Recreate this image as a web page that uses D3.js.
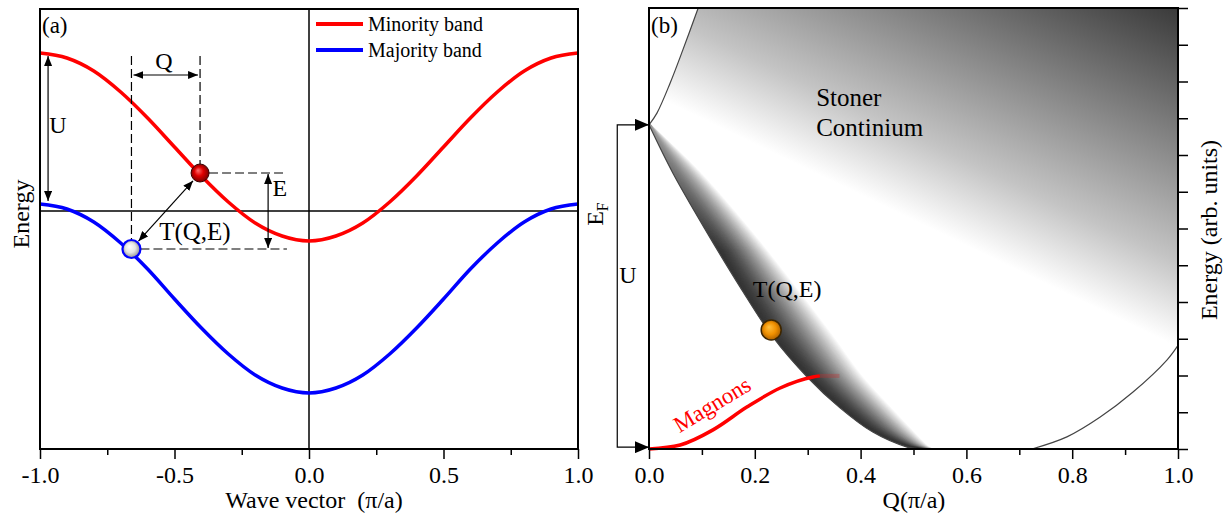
<!DOCTYPE html>
<html lang="en">
<head>
<meta charset="UTF-8">
<title>Bands and Stoner continuum</title>
<style>
  body { margin: 0; background: #fff; }
  svg { display: block; }
  text { font-family: "Liberation Serif", "DejaVu Serif", serif; fill: #000; }
  .tick text { font-size: 24px; }
  .tick line { stroke: #000; stroke-width: 1.5; }
</style>
</head>
<body>
<svg id="chart" width="1231" height="518"></svg>
<script src="https://cdn.jsdelivr.net/npm/d3@7"></script>
<script>
// ---- panel (a): tight-binding bands ----
var waveVector = [-1.0, -0.9, -0.8, -0.7, -0.6, -0.5, -0.4, -0.3, -0.2, -0.1, 0.0,
                  0.1, 0.2, 0.3, 0.4, 0.5, 0.6, 0.7, 0.8, 0.9, 1.0];
var minorityBand = [1.58, 1.53, 1.40, 1.19, 0.93, 0.64, 0.35, 0.09, -0.12, -0.25, -0.30,
                    -0.25, -0.12, 0.09, 0.35, 0.64, 0.93, 1.19, 1.40, 1.53, 1.58];
var majorityBand = [0.07, 0.02, -0.11, -0.32, -0.58, -0.88, -1.17, -1.43, -1.64, -1.77, -1.82,
                    -1.77, -1.64, -1.43, -1.17, -0.88, -0.58, -0.32, -0.11, 0.02, 0.07];
var minorityPoint = [-0.405, 0.38];
var majorityPoint = [-0.66, -0.38];
var ticksA = [-1, -0.5, 0, 0.5, 1];
var tickLabelsA = ["-1.0", "-0.5", "0.0", "0.5", "1.0"];
var minorTicksA = [-0.75, -0.25, 0.25, 0.75];

// ---- panel (b): Stoner continuum ----
var upperQ = [0, 0.015, 0.040, 0.064, 0.093];
var upperE = [8.82, 9.14, 9.96, 10.86, 12.0];
var lowerQ = [0, 0.045, 0.110, 0.172, 0.234, 0.299, 0.361, 0.423, 0.488, 0.507];
var lowerE = [8.82, 7.51, 5.88, 4.41, 3.05, 1.96, 1.12, 0.46, 0.05, 0];
var fadeQ  = [0, 0.096, 0.195, 0.276, 0.348, 0.403, 0.456, 0.499, 0.527, 0.534];
var rightQ = [0.724, 0.790, 0.853, 0.915, 0.979, 1.0];
var rightE = [0, 0.33, 0.87, 1.55, 2.42, 2.82];
var magnonQ = [0, 0.059, 0.121, 0.185, 0.248, 0.310, 0.323];
var magnonE = [0, 0.11, 0.52, 1.14, 1.66, 1.96, 1.99];
var stonerPoint = [0.231, 3.24];
var ticksB = [0, 0.2, 0.4, 0.6, 0.8, 1.0];
var tickLabelsB = ["0.0", "0.2", "0.4", "0.6", "0.8", "1.0"];
var minorTicksB = [0.1, 0.3, 0.5, 0.7, 0.9];
var energyTicksB = [0, 1, 2, 3, 4, 5, 6, 7, 8, 9, 10, 11, 12];

var svg = d3.select("#chart");
var defs = svg.append("defs");

var xA = d3.scaleLinear().domain([-1, 1]).range([40, 578]);
var yA = d3.scaleLinear().domain([-2.38, 2.02]).range([449, 9]);
var xB = d3.scaleLinear().domain([0, 1]).range([649, 1178]);
var yB = d3.scaleLinear().domain([0, 12]).range([449, 8]);

// markers
defs.append("marker").attr("id", "headA")
  .attr("markerUnits", "userSpaceOnUse").attr("markerWidth", 10).attr("markerHeight", 8)
  .attr("refX", 10).attr("refY", 4).attr("orient", "auto-start-reverse")
  .append("path").attr("d", "M0,0L10,4L0,8Z").attr("fill", "#000");
defs.append("marker").attr("id", "headB")
  .attr("markerUnits", "userSpaceOnUse").attr("markerWidth", 14).attr("markerHeight", 12)
  .attr("refX", 14).attr("refY", 6).attr("orient", "auto-start-reverse")
  .append("path").attr("d", "M0,0L14,6L0,12Z").attr("fill", "#000");

function radial(id, stops) {
  var g = defs.append("radialGradient").attr("id", id)
    .attr("cx", "50%").attr("cy", "50%").attr("r", "55%").attr("fx", "38%").attr("fy", "35%");
  stops.forEach(function (s) {
    g.append("stop").attr("offset", s[0]).attr("stop-color", s[1]);
  });
}
radial("dotRed", [["0%", "#ff7070"], ["45%", "#e00000"], ["100%", "#6a0000"]]);
radial("dotWhite", [["0%", "#ffffff"], ["50%", "#e4e4e4"], ["100%", "#808080"]]);
radial("dotOrange", [["0%", "#ffc040"], ["55%", "#f09000"], ["100%", "#a05800"]]);

var stonerGrad = defs.append("linearGradient").attr("id", "stonerGrad")
  .attr("gradientUnits", "userSpaceOnUse")
  .attr("x1", xB(0.75)).attr("y1", yB(4.5)).attr("x2", xB(1)).attr("y2", yB(12));
stonerGrad.append("stop").attr("offset", "0%").attr("stop-color", "#ffffff");
stonerGrad.append("stop").attr("offset", "25%").attr("stop-color", "#c4c4c4");
stonerGrad.append("stop").attr("offset", "100%").attr("stop-color", "#3a3a3a");

// band fades in from the cusp downwards
var bandMaskGrad = defs.append("linearGradient").attr("id", "bandMaskGrad")
  .attr("gradientUnits", "userSpaceOnUse")
  .attr("x1", 0).attr("y1", yB(8.82)).attr("x2", 0).attr("y2", yB(5.4));
bandMaskGrad.append("stop").attr("offset", "0%").attr("stop-color", "#fff").attr("stop-opacity", 0.5);
bandMaskGrad.append("stop").attr("offset", "100%").attr("stop-color", "#fff").attr("stop-opacity", 1);
defs.append("mask").attr("id", "bandMask").attr("maskUnits", "userSpaceOnUse")
  .attr("x", 600).attr("y", 0).attr("width", 631).attr("height", 518)
  .append("rect").attr("x", 600).attr("y", 0).attr("width", 631).attr("height", 518)
  .attr("fill", "url(#bandMaskGrad)");

// ================= panel (a) =================
var gA = svg.append("g");

gA.append("line")
  .attr("x1", xA(-1)).attr("x2", xA(1)).attr("y1", yA(0)).attr("y2", yA(0))
  .attr("stroke", "#000").attr("stroke-width", 1.5);
gA.append("line")
  .attr("x1", xA(0)).attr("x2", xA(0)).attr("y1", yA(2.02)).attr("y2", yA(-2.38))
  .attr("stroke", "#000").attr("stroke-width", 1.5);

var bandLine = d3.line()
  .x(function (d, i) { return xA(waveVector[i]); })
  .y(function (d) { return yA(d); })
  .curve(d3.curveMonotoneX);

gA.append("path").attr("d", bandLine(minorityBand))
  .attr("fill", "none").attr("stroke", "#ff0000").attr("stroke-width", 3.5);
gA.append("path").attr("d", bandLine(majorityBand))
  .attr("fill", "none").attr("stroke", "#0000ff").attr("stroke-width", 3.5);

// legend
var legend = [["Minority band", "#ff0000"], ["Majority band", "#0000ff"]];
legend.forEach(function (l, i) {
  var y = 24 + i * 26;
  gA.append("line").attr("x1", 316).attr("x2", 363).attr("y1", y).attr("y2", y)
    .attr("stroke", l[1]).attr("stroke-width", 4);
  gA.append("text").attr("x", 368).attr("y", y + 7).attr("font-size", 20).text(l[0]);
});

// construction lines
var pR = [xA(minorityPoint[0]), yA(minorityPoint[1])];
var pB = [xA(majorityPoint[0]), yA(majorityPoint[1])];
var dotR = 9;
var dash = "9,4";

gA.append("line").attr("x1", pB[0]).attr("x2", pB[0]).attr("y1", yA(1.55)).attr("y2", pB[1] - dotR)
  .attr("stroke", "#000").attr("stroke-width", 1.2).attr("stroke-dasharray", dash);
gA.append("line").attr("x1", pR[0]).attr("x2", pR[0]).attr("y1", yA(1.55)).attr("y2", pR[1] - dotR)
  .attr("stroke", "#000").attr("stroke-width", 1.2).attr("stroke-dasharray", dash);
gA.append("line").attr("x1", pR[0] + dotR).attr("x2", xA(-0.082)).attr("y1", pR[1]).attr("y2", pR[1])
  .attr("stroke", "#000").attr("stroke-width", 1.2).attr("stroke-dasharray", dash);
gA.append("line").attr("x1", pB[0] + dotR).attr("x2", xA(-0.082)).attr("y1", pB[1]).attr("y2", pB[1])
  .attr("stroke", "#000").attr("stroke-width", 1.2).attr("stroke-dasharray", dash);

function dblArrow(g, x1, y1, x2, y2, head, w) {
  g.append("line").attr("x1", x1).attr("y1", y1).attr("x2", x2).attr("y2", y2)
    .attr("stroke", "#000").attr("stroke-width", w || 1.2)
    .attr("marker-start", "url(#" + head + ")").attr("marker-end", "url(#" + head + ")");
}
// Q
dblArrow(gA, pB[0] + 2, yA(1.36), pR[0] - 2, yA(1.36), "headA");
// U
dblArrow(gA, xA(-0.97), yA(minorityBand[0]) + 3, xA(-0.97), yA(majorityBand[0]) - 3, "headA");
// E
dblArrow(gA, xA(-0.152), pR[1] + 1, xA(-0.152), pB[1] - 1, "headA");
// T(Q,E)
var dx = pR[0] - pB[0], dy = pR[1] - pB[1], len = Math.sqrt(dx * dx + dy * dy), off = 10.5;
dblArrow(gA, pB[0] + dx / len * off, pB[1] + dy / len * off,
  pR[0] - dx / len * off, pR[1] - dy / len * off, "headA");

gA.append("circle").attr("cx", pR[0]).attr("cy", pR[1]).attr("r", dotR)
  .attr("fill", "url(#dotRed)").attr("stroke", "#3a0000").attr("stroke-width", 1);
gA.append("circle").attr("cx", pB[0]).attr("cy", pB[1]).attr("r", dotR)
  .attr("fill", "url(#dotWhite)").attr("stroke", "#0000ff").attr("stroke-width", 2.2);

function label(g, x, y, txt, size, anchor) {
  return g.append("text").attr("x", x).attr("y", y).attr("font-size", size)
    .attr("text-anchor", anchor || "middle").text(txt);
}
label(gA, 42, 33, "(a)", 23, "start");
label(gA, xA(-0.539), yA(1.42), "Q", 24);
label(gA, xA(-0.933), yA(0.78), "U", 24);
label(gA, xA(-0.108), yA(0.15), "E", 24);
label(gA, xA(-0.424), yA(-0.29), "T(Q,E)", 25);

// frame + axis
gA.append("rect").attr("x", 40).attr("y", 9).attr("width", 538).attr("height", 440)
  .attr("fill", "none").attr("stroke", "#000").attr("stroke-width", 2);

var axA = gA.append("g").attr("transform", "translate(0,449)")
  .call(d3.axisBottom(xA).tickValues(ticksA)
    .tickFormat(function (d, i) { return tickLabelsA[i]; })
    .tickSize(10).tickPadding(7).tickSizeOuter(0));
axA.select(".domain").remove();
var axA2 = gA.append("g").attr("transform", "translate(0,449)")
  .call(d3.axisBottom(xA).tickValues(minorTicksA).tickFormat("").tickSize(6).tickSizeOuter(0));
axA2.select(".domain").remove();

gA.append("text").attr("x", 314).attr("y", 508).attr("font-size", 24)
  .attr("text-anchor", "middle").style("white-space", "pre").text("Wave vector  (\u03c0/a)");
gA.append("text").attr("transform", "translate(29,214) rotate(-90)")
  .attr("font-size", 24).attr("text-anchor", "middle").text("Energy");

// ================= panel (b) =================
var gB = svg.append("g");

var lineQE = d3.line()
  .x(function (d) { return xB(d[0]); })
  .y(function (d) { return yB(d[1]); })
  .curve(d3.curveCatmullRom.alpha(0.5));

var upperPts = d3.zip(upperQ, upperE);
var lowerPts = d3.zip(lowerQ, lowerE);
var rightPts = d3.zip(rightQ, rightE);

var regionD = lineQE(upperPts) +
  "L" + xB(1) + "," + yB(12) +
  lineQE(rightPts.slice().reverse()).replace(/^M/, "L") +
  lineQE(lowerPts.slice().reverse()).replace(/^M/, "L") + "Z";

defs.append("clipPath").attr("id", "regionClip").append("path").attr("d", regionD);

gB.append("path").attr("d", regionD).attr("fill", "url(#stonerGrad)");

// dark band along the lower edge of the continuum
var nBand = 48;
var bandSteps = d3.range(nBand, -1, -1).map(function (j) { return j / nBand; });
var bandCol = d3.interpolateRgb("#343434", "#ffffff");
gB.append("g").attr("clip-path", "url(#regionClip)")
  .append("g").attr("mask", "url(#bandMask)")
  .selectAll("path").data(bandSteps).join("path")
  .attr("d", function (t) {
    return lineQE(lowerQ.map(function (q, i) { return [q + t * (fadeQ[i] - q), lowerE[i]]; }));
  })
  .attr("fill", "none").attr("stroke-width", 3)
  .attr("stroke", function (t) { return bandCol(Math.pow(t, 1.5)); });

[upperPts, lowerPts, rightPts].forEach(function (pts) {
  gB.append("path").attr("d", lineQE(pts)).attr("fill", "none")
    .attr("stroke", "#444").attr("stroke-width", 1.2);
});

// magnons
var magnonLine = d3.line()
  .x(function (d, i) { return xB(magnonQ[i]); })
  .y(function (d) { return yB(d); })
  .curve(d3.curveMonotoneX);
gB.append("path").attr("d", magnonLine(magnonE))
  .attr("fill", "none").attr("stroke", "#ff0000").attr("stroke-width", 3.5);
gB.append("line")
  .attr("x1", xB(magnonQ[magnonQ.length - 1])).attr("y1", yB(magnonE[magnonE.length - 1]))
  .attr("x2", xB(0.36)).attr("y2", yB(magnonE[magnonE.length - 1]))
  .attr("stroke", "#c03030").attr("stroke-opacity", 0.35).attr("stroke-width", 4);

gB.append("circle").attr("cx", xB(stonerPoint[0])).attr("cy", yB(stonerPoint[1])).attr("r", 10)
  .attr("fill", "url(#dotOrange)").attr("stroke", "#3d2600").attr("stroke-width", 1.5);

label(gB, 651, 33, "(b)", 23, "start");
label(gB, xB(0.316), yB(9.33), "Stoner", 25, "start");
label(gB, xB(0.316), yB(8.52), "Continium", 25, "start");
label(gB, xB(0.261), yB(4.14), "T(Q,E)", 24);
gB.append("text")
  .attr("transform", "translate(" + xB(0.119) + "," + yB(1.22) + ") rotate(-31)")
  .attr("font-size", 23).attr("text-anchor", "middle").attr("dy", "0.35em")
  .style("fill", "#ff0000").text("Magnons");

// U bracket
gB.append("path")
  .attr("d", "M" + xB(0) + "," + yB(8.82) + "H" + xB(-0.06) + "V" + yB(0.05) + "H" + xB(0))
  .attr("fill", "none").attr("stroke", "#000").attr("stroke-width", 1.2)
  .attr("marker-start", "url(#headB)").attr("marker-end", "url(#headB)");
label(gB, xB(-0.04), yB(4.52), "U", 24);

var ef = gB.append("text").attr("transform", "translate(603,214) rotate(-90)")
  .attr("font-size", 24).attr("text-anchor", "middle");
ef.append("tspan").text("E");
ef.append("tspan").attr("font-size", 16).attr("dy", 5).text("F");

// frame + axes
gB.append("rect").attr("x", 649).attr("y", 8).attr("width", 529).attr("height", 441)
  .attr("fill", "none").attr("stroke", "#000").attr("stroke-width", 2);

var axB = gB.append("g").attr("transform", "translate(0,449)")
  .call(d3.axisBottom(xB).tickValues(ticksB)
    .tickFormat(function (d, i) { return tickLabelsB[i]; })
    .tickSize(10).tickPadding(7).tickSizeOuter(0));
axB.select(".domain").remove();
var axB2 = gB.append("g").attr("transform", "translate(0,449)")
  .call(d3.axisBottom(xB).tickValues(minorTicksB).tickFormat("").tickSize(6).tickSizeOuter(0));
axB2.select(".domain").remove();
var axR = gB.append("g").attr("transform", "translate(1178,0)")
  .call(d3.axisRight(yB).tickValues(energyTicksB).tickFormat("").tickSize(10).tickSizeOuter(0));
axR.select(".domain").remove();

gB.append("text").attr("x", 914).attr("y", 508).attr("font-size", 24)
  .attr("text-anchor", "middle").text("Q(\u03c0/a)");
gB.append("text").attr("transform", "translate(1217,230) rotate(-90)")
  .attr("font-size", 24).attr("text-anchor", "middle").text("Energy (arb. units)");
</script>
</body>
</html>
